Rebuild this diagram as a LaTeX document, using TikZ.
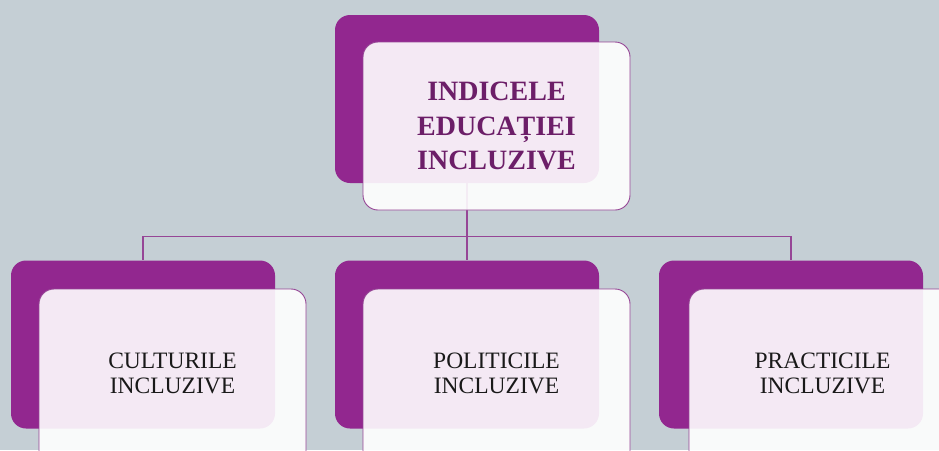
\documentclass[tikz,border=0pt]{standalone}
\usepackage{fontspec}
\setmainfont{Liberation Serif}
\definecolor{bgGray}{RGB}{197,207,213}
\definecolor{boxPurple}{RGB}{146,39,143}
\definecolor{titlePurple}{RGB}{108,30,104}
\definecolor{linePurple}{RGB}{150,70,150}
\pgfdeclarelayer{links}
\pgfsetlayers{links,main}
\tikzset{
  backbox/.style={fill=boxPurple, rounded corners=15pt, minimum width=264pt, minimum height=168pt, inner sep=0pt},
  frontbox/.style={draw=linePurple, line width=0.9pt, fill=white, fill opacity=0.9, text opacity=1, rounded corners=15pt, minimum width=267pt, minimum height=168pt, inner sep=0pt, align=center},
  titletext/.style={text=titlePurple, font=\fontsize{28}{34.5}\selectfont\bfseries},
  itemtext/.style={text=black!90, font=\fontsize{23.5}{25}\selectfont},
  link/.style={draw=linePurple, line width=1.1pt}
}
\begin{document}
\begin{tikzpicture}[x=1pt,y=-1pt]
\begin{pgfonlayer}{links}
\fill[bgGray] (0,0) rectangle (939,450);
\end{pgfonlayer}
\useasboundingbox (0,0) rectangle (939,450);

% back boxes
\node[backbox] (indiceback) at (467,99) {};
\node[backbox] (culturiback) at (143,344.5) {};
\node[backbox] (politiciback) at (467,344.5) {};
\node[backbox] (practiciback) at (791,344.5) {};

% front boxes
\node[frontbox, titletext] (indice) at (496.5,126) {INDICELE\\EDUCAȚIEI\\INCLUZIVE};
\node[frontbox, itemtext, minimum height=190pt, text depth=22pt] (culturi) at (172.5,384) {CULTURILE\\INCLUZIVE};
\node[frontbox, itemtext, minimum height=190pt, text depth=22pt] (politici) at (496.5,384) {POLITICILE\\INCLUZIVE};
\node[frontbox, itemtext, minimum height=190pt, text depth=22pt] (practici) at (822.5,384) {PRACTICILE\\INCLUZIVE};

% connectors
\begin{pgfonlayer}{links}
\draw[link] (indiceback.south) -- ++(0,53) coordinate (bar) -| (culturiback.north);
\draw[link] (bar) -| (practiciback.north);
\draw[link] (bar) -- (politiciback.north);
\end{pgfonlayer}
\end{tikzpicture}
\end{document}
